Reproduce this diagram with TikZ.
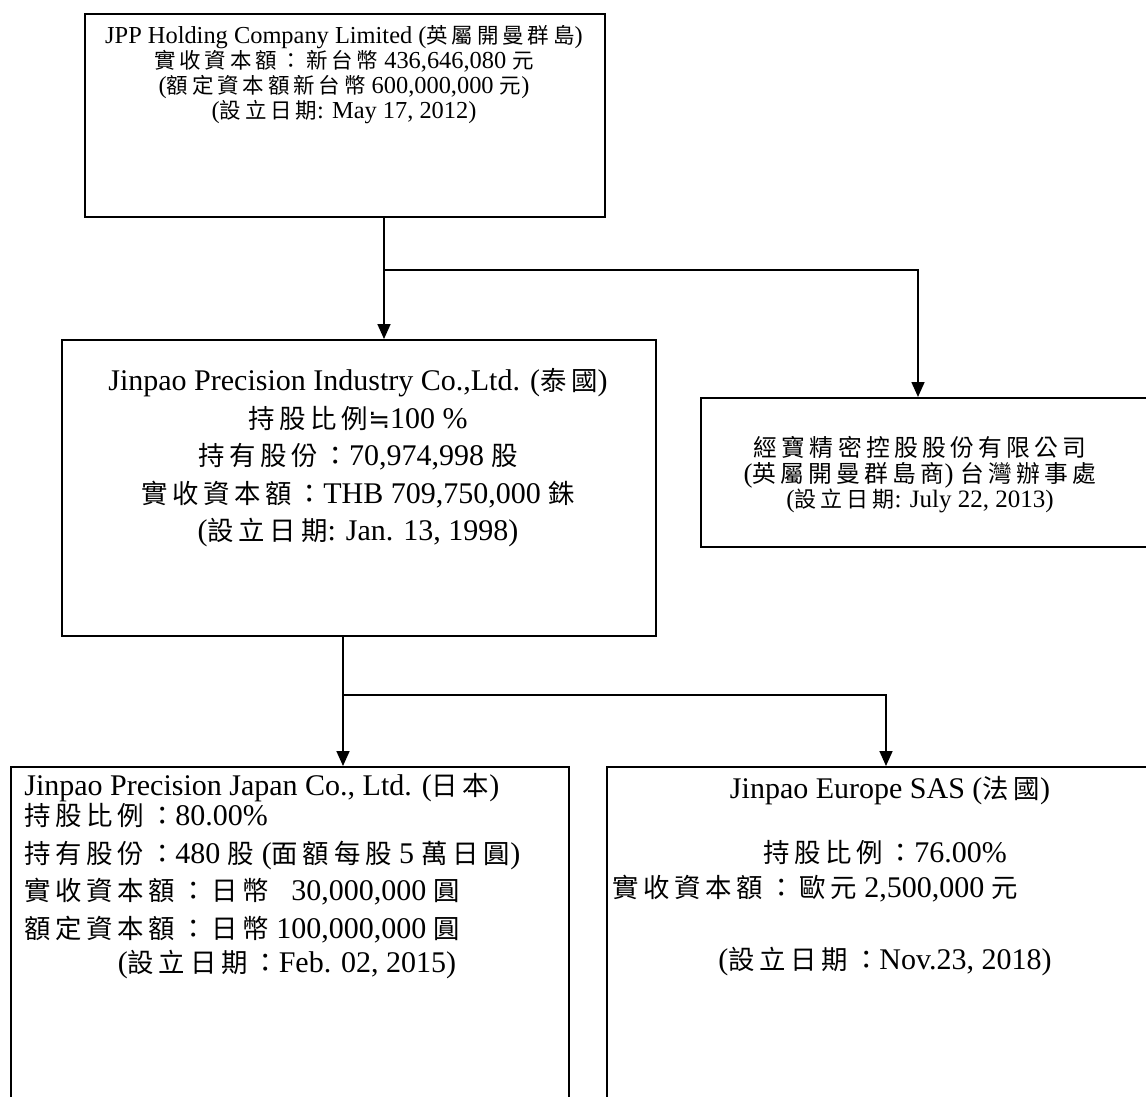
\documentclass[tikz,border=0pt]{standalone}
\usepackage{fontspec}
\setmainfont{Liberation Serif}
\newfontfamily\cjkfont[Scale=0.88,LetterSpace=18]{Noto Sans CJK TC}
\newfontfamily\symfont{DejaVu Sans}
\newcommand{\zh}[1]{{\cjkfont #1}}
\usetikzlibrary{arrows.meta, positioning, calc}

\begin{document}
\begin{tikzpicture}[x=0.5pt, y=-0.5pt,
  box/.style={draw, line width=0.85pt, anchor=north west, inner sep=0pt},
  conn/.style={line width=0.85pt},
  arr/.style={conn, -{Triangle[length=7.5pt, width=6.5pt]}},
  txt/.style={inner sep=0pt, font=\fontsize{12.2}{12.5}\selectfont},
  big/.style={txt, font=\fontsize{15}{18.75}\selectfont}]
  \useasboundingbox (0,0) rectangle (1146,1097);
  \clip (0,0) rectangle (1146,1097);

  % Boxes
  \node[box, minimum width=260pt, minimum height=101.5pt] (jpp) at (84,13) {};
  \node[box, minimum width=297pt, minimum height=148pt] (thai) at (61,339) {};
  \node[box, minimum width=240pt, minimum height=74.5pt] (office) at (700,397) {};
  \node[box, minimum width=279pt, minimum height=180pt] (japan) at (10,766) {};
  \node[box, minimum width=300pt, minimum height=180pt] (europe) at (606,766) {};

  % Holding company
  \node[txt, align=center] (jpptxt) at (344,75) {
    JPP Holding Company Limited (\zh{英屬開曼群島})\\
    \zh{實收資本額：新台幣} 436,646,080 \zh{元}\\
    (\zh{額定資本額新台幣} 600,000,000 \zh{元})\\
    (\zh{設立日期}: May 17, 2012)
  };

  % Thailand
  \node[big, align=center] (thaitxt) at (358,458) {
    Jinpao Precision Industry Co.,Ltd. (\zh{泰國})\\
    \zh{持股比例}{\symfont\fontsize{13}{13}\selectfont ≒}100 \%\\
    \zh{持有股份：}70,974,998 \zh{股}\\
    \zh{實收資本額：}THB 709,750,000 \zh{銖}\\
    (\zh{設立日期}: Jan. 13, 1998)
  };

  % Taiwan office
  \node[txt, align=center, font=\fontsize{13.5}{12.75}\selectfont] (officetxt) at (920,475) {
    \zh{經寶精密控股股份有限公司}\\
    (\zh{英屬開曼群島商}) \zh{台灣辦事處}\\
    {\fontsize{12.5}{12.75}\selectfont (\zh{設立日期}: July 22, 2013)}
  };

  % Japan
  \node[big, anchor=west, align=left] (japantxt) at (24,858) {
    Jinpao Precision Japan Co., Ltd. (\zh{日本})\\[-3.5pt]
    \zh{持股比例：}80.00\%\\
    \zh{持有股份：}480 \zh{股} (\zh{面額每股} 5 \zh{萬日圓})\\
    \zh{實收資本額：日幣} \hphantom{1}30,000,000 \zh{圓}\\
    \zh{額定資本額：日幣} 100,000,000 \zh{圓}
  };
  \node[big] (japandate) at (287,965) {(\zh{設立日期：}Feb. 02, 2015)};

  % Europe
  \node[big] (euname) at (890,791) {Jinpao Europe SAS (\zh{法國})};
  \node[big] (eushare) at (885,852) {\zh{持股比例：}76.00\%};
  \node[big, anchor=west] (eucap) at (612,889) {\zh{實收資本額：歐元} 2,500,000 \zh{元}};
  \node[big] (eudate) at (885,962) {(\zh{設立日期：}Nov.23, 2018)};

  % Connectors
  \coordinate (fork1) at (384,270);
  \coordinate (fork2) at (343,695);
  \draw[conn] (fork1 |- jpp.south) -- (fork1);
  \draw[arr] (fork1) -- (fork1 |- thai.north);
  \draw[arr] (fork1) -| ([xshift=109pt]office.north west);
  \draw[conn] (fork2 |- thai.south) -- (fork2);
  \draw[arr] (fork2) -- (fork2 |- japan.north);
  \draw[arr] (fork2) -| ([xshift=140pt]europe.north west);
\end{tikzpicture}
\end{document}
